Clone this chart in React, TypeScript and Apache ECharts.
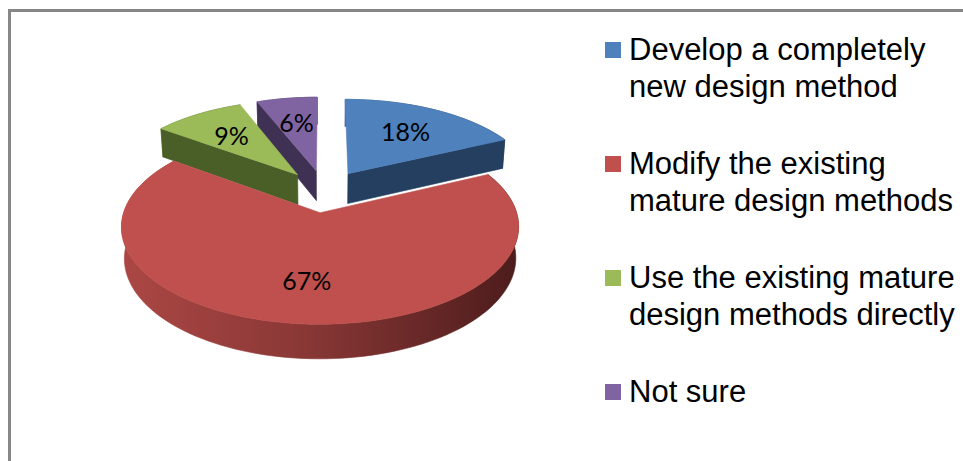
import React, { useEffect, useRef } from 'react';
import * as echarts from 'echarts';

// ---- data ----
const categories = [
  'Develop a completely\nnew design method',
  'Modify the existing\nmature design methods',
  'Use the existing mature\ndesign methods directly',
  'Not sure',
];
const values = [18, 67, 9, 6];
const topColors = ['#4F81BD', '#C0504D', '#9BBB59', '#8064A2'];
const sideColors = ['#243F60', '#4D1C1C', '#4A5E27', '#3F3153'];
const wallLight = ['#3F6A9C', '#AB4744', '#7E9A48', '#68528A'];

// ---- 3D pie geometry (perspective) ----
const CX = 324.5;
const CY = 191;
const R = 190;
const H = 35;
const EXPLODE = 45;
const DIST = 1200;
const PHI = (28 * Math.PI) / 180;

function proj(X: number, Y: number, Z: number): number[] {
  const w = Y * Math.sin(PHI) + Z * Math.cos(PHI);
  const s = DIST / (DIST - w);
  const v = Y * Math.cos(PHI) - Z * Math.sin(PHI);
  return [CX + X * s, CY - v * s];
}

const total = values.reduce((a, b) => a + b, 0);

function sliceAngles(k: number, val: number) {
  let start = 0;
  for (let i = 0; i < k; i++) start += values[i];
  const a = (start / total) * Math.PI * 2;
  const b = ((start + val) / total) * Math.PI * 2;
  return { a, b, m: (a + b) / 2 };
}

function makeRenderItem(k: number) {
  return (params: any, api: any) => {
    const val = api.value(0) as number;
    const { a, b, m } = sliceAngles(k, val);
    const ox = EXPLODE * Math.sin(m);
    const oz = -EXPLODE * Math.cos(m);
    const pt = (t: number, r: number, y: number) =>
      proj(ox + r * Math.sin(t), y, oz - r * Math.cos(t));
    const n = Math.max(2, Math.ceil((b - a) / (Math.PI / 90)));
    const topArc: number[][] = [];
    const botArc: number[][] = [];
    for (let i = 0; i <= n; i++) {
      const t = a + ((b - a) * i) / n;
      topArc.push(pt(t, R, 0));
      botArc.push(pt(t, R, -H));
    }
    const side = sideColors[k];
    const wallGrad = new echarts.graphic.LinearGradient(0, 0, 1, 0, [
      { offset: 0, color: wallLight[k] },
      { offset: 0.45, color: k === 1 ? '#8A3836' : side },
      { offset: 1, color: side },
    ]);
    const children: any[] = [];
    children.push({
      type: 'polygon',
      z2: 0,
      shape: { points: topArc.concat(botArc.slice().reverse()) },
      style: { fill: wallGrad, stroke: wallGrad, lineWidth: 0.6 },
    });
    const face = (t: number) => [pt(t, 0, 0), pt(t, R, 0), pt(t, R, -H), pt(t, 0, -H)];
    if (Math.sin(b) > 1e-6) {
      children.push({
        type: 'polygon',
        z2: 1,
        shape: { points: face(b) },
        style: { fill: side, stroke: side, lineWidth: 0.6 },
      });
    }
    if (Math.sin(a) < -1e-6) {
      children.push({
        type: 'polygon',
        z2: 1,
        shape: { points: face(a) },
        style: { fill: side, stroke: side, lineWidth: 0.6 },
      });
    }
    children.push({
      type: 'polygon',
      z2: 2,
      shape: { points: [pt(m, 0, 0)].concat(topArc) },
      style: { fill: topColors[k], stroke: topColors[k], lineWidth: 0.6 },
    });
    const lp = pt(m, R * 0.64, 0);
    children.push({
      type: 'text',
      z2: 3,
      x: lp[0],
      y: lp[1],
      style: {
        text: Math.round((val / total) * 100) + '%',
        fill: '#000',
        font: '25px Lato, "Open Sans", sans-serif',
        align: 'center',
        verticalAlign: 'middle',
      },
    });
    return { type: 'group', children };
  };
}

// depth rank: farther slices drawn first
const depthOrder = values
  .map((v, k) => {
    const { m } = sliceAngles(k, v);
    return { k, oz: -Math.cos(m) };
  })
  .sort((p, q) => p.oz - q.oz)
  .map((o) => o.k);

const ICON = 'path://M0,0h16v16h-16z M16,52';

export default function App() {
  const ref = useRef<HTMLDivElement>(null);
  useEffect(() => {
    if (!ref.current) return;
    const chart = echarts.init(ref.current, undefined, { renderer: 'svg' });
    chart.setOption({
      animation: false,
      backgroundColor: '#ffffff',
      graphic: [
        {
          type: 'rect',
          silent: true,
          shape: { x: 9.5, y: 10.5, width: 1000, height: 500 },
          style: { fill: 'none', stroke: '#878787', lineWidth: 3 },
        },
      ],
      legend: {
        orient: 'vertical',
        left: 605,
        top: 31,
        padding: 0,
        itemGap: 40,
        itemWidth: 16,
        itemHeight: 52,
        selectedMode: false,
        icon: ICON,
        formatter: (name: string) => (name.indexOf('\n') < 0 ? name + '\n ' : name),
        textStyle: {
          fontFamily: '"Liberation Sans", Arial, sans-serif',
          fontSize: 31,
          lineHeight: 37,
          color: '#000',
          padding: [0, 0, 0, 3],
        },
        data: categories.map((c) => ({ name: c })),
      },
      series: values.map((v, k) => ({
        type: 'custom',
        name: categories[k],
        coordinateSystem: 'none',
        silent: true,
        z: 2 + depthOrder.indexOf(k),
        itemStyle: { color: topColors[k] },
        data: [{ value: [v], name: categories[k] }],
        renderItem: makeRenderItem(k),
      })),
    });
    return () => chart.dispose();
  }, []);
  return (
    <div
      ref={ref}
      style={{ position: 'fixed', left: 0, top: 0, width: 963, height: 461 }}
    />
  );
}
